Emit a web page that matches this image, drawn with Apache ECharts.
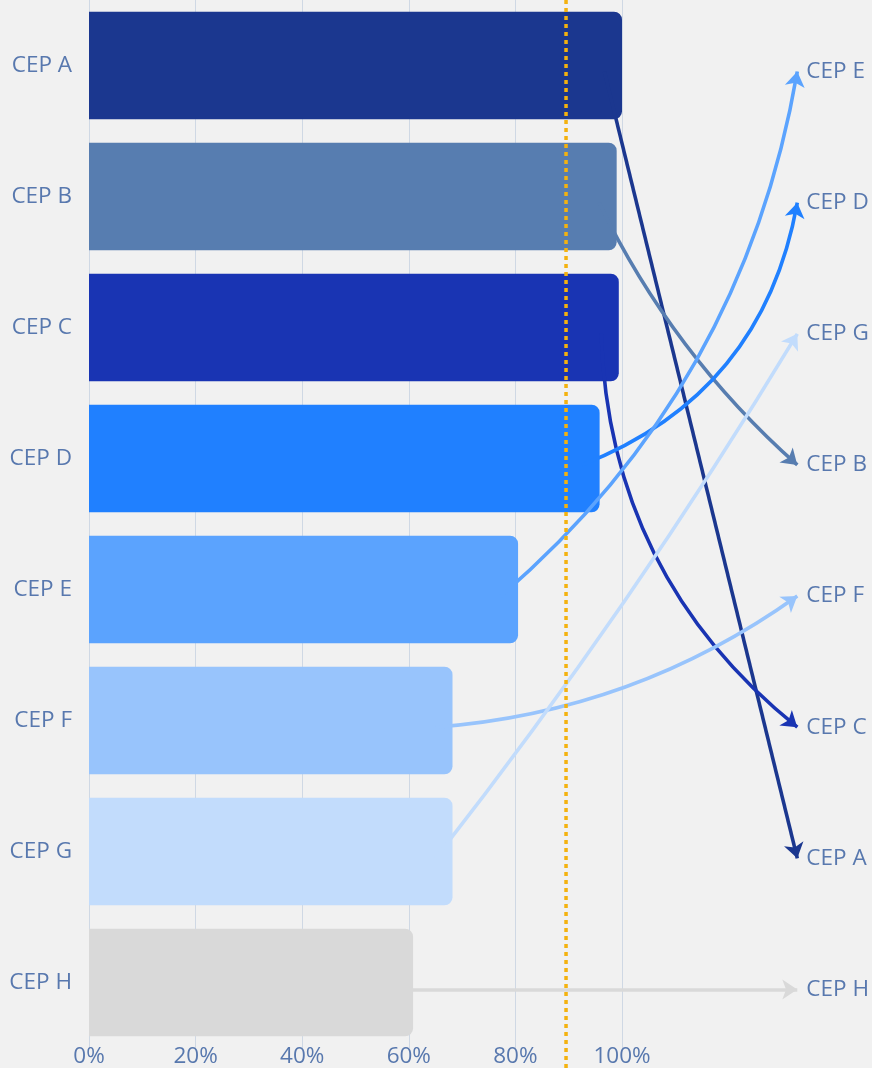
<!DOCTYPE html>
<html><head><meta charset="utf-8">
<script src="https://cdn.jsdelivr.net/npm/echarts@6/dist/echarts.min.js"></script>
<style>html,body{margin:0;padding:0;background:#f1f1f1}#c{width:872px;height:1068px}</style>
</head><body><div id="c"></div><script>
// ---- data ----
const categories = ['CEP A','CEP B','CEP C','CEP D','CEP E','CEP F','CEP G','CEP H'];
const values = [100, 99.0, 99.4, 95.8, 80.5, 68.2, 68.2, 60.8];
const rankOrder = ['CEP E','CEP D','CEP G','CEP B','CEP F','CEP C','CEP A','CEP H'];
const targetValue = 89.5;
const xMin = 0, xMax = 100, xStep = 20;

// ---- styles ----
const colors = ['#1b378f','#577db0','#1934b3','#2080ff','#5ba3fe','#98c4fc','#c2dcfc','#d9d9d9'];
const curveness = [0, -0.1, -0.23, -0.28, -0.18, -0.14, -0.03, 0];
const startInset = 3;      // arrows start a little inside the bar end (% units)
const arrowEnd = 133.3;    // x position (% units) where arrows end
const labelColor = '#5878ae';
const font = '"Open Sans", "Noto Sans", sans-serif';
const fs = 22.5;

const chart = echarts.init(document.getElementById('c'), null, {renderer:'canvas'});
chart.setOption({
  backgroundColor: '#f1f1f1',
  animation: false,
  textStyle: {fontFamily: font},
  grid: [
    {left: 89, right: 250, top: -4, bottom: 16},
    {left: 89, right: 250, top: 6, bottom: 13},
    {left: 89, right: 250, top: 0, bottom: 0}
  ],
  xAxis: [
    {gridIndex: 0, type: 'value', min: xMin, max: xMax, interval: xStep,
     axisLabel: {formatter: '{value}%', color: labelColor, fontSize: fs, margin: -3, fontFamily: font},
     axisLine: {show: false}, axisTick: {show: false},
     splitLine: {show: true, lineStyle: {color: '#cfd8e4', width: 1}}},
    {gridIndex: 1, type: 'value', min: xMin, max: xMax, show: false},
    {gridIndex: 2, type: 'value', min: xMin, max: xMax, show: false}
  ],
  yAxis: [
    {gridIndex: 0, type: 'category', data: categories, inverse: true,
     axisLabel: {color: labelColor, fontSize: fs, margin: 17, fontFamily: font},
     axisLine: {show: false}, axisTick: {show: false}, splitLine: {show: false}},
    {gridIndex: 1, type: 'category', data: rankOrder, inverse: true, position: 'right', offset: 178,
     axisLabel: {color: labelColor, fontSize: fs, margin: 8, fontFamily: font},
     axisLine: {show: false}, axisTick: {show: false}, splitLine: {show: false}},
    {gridIndex: 2, type: 'value', min: 0, max: 1, show: false}
  ],
  series: [
    {type: 'bar', xAxisIndex: 0, yAxisIndex: 0, z: 2,
     barCategoryGap: '17.8%',
     data: values.map((v, i) => ({value: v, itemStyle: {color: colors[i], borderRadius: [0, 8, 8, 0]}}))},
    {type: 'lines', coordinateSystem: 'cartesian2d', xAxisIndex: 1, yAxisIndex: 1, z: 3,
     clip: false, silent: true,
     symbol: ['none', 'arrow'], symbolSize: 15,
     data: categories.map((c, i) => ({
       coords: [[values[i] - startInset, i], [arrowEnd, rankOrder.indexOf(c)]],
       lineStyle: {color: colors[i], width: 3.6, opacity: 1, curveness: curveness[i]}
     }))},
    {type: 'line', xAxisIndex: 2, yAxisIndex: 2, z: 4, silent: true,
     showSymbol: false, symbol: 'none',
     data: [[targetValue, 0], [targetValue, 1]],
     lineStyle: {color: '#f4b20f', width: 3.5, type: [4, 4], cap: 'butt'}}
  ]
});
</script></body></html>
